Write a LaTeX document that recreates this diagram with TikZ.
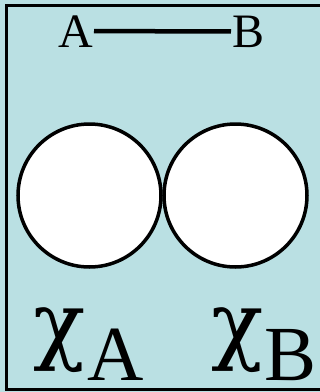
\documentclass[tikz,border=0pt]{standalone}
\usepackage{fontspec}
\setmainfont{Liberation Serif}
\newfontfamily\greekfont{DejaVu Serif}
\definecolor{bg}{HTML}{BAE0E3}
\tikzset{
  lbl/.style={inner sep=1pt, font=\fontsize{48}{48}\selectfont},
  disc/.style={circle, draw, fill=white, line width=3.5pt, minimum size=143pt, inner sep=0pt},
  chi/.style={inner sep=0pt, anchor=base west, font=\fontsize{86}{86}\selectfont\greekfont},
  sub/.style={inner sep=0pt, anchor=base west, text depth=0pt, font=\fontsize{78}{78}\selectfont}
}
\begin{document}
\begin{tikzpicture}[x=1pt,y=-1pt]
\useasboundingbox (0,0) rectangle (320,392);
\fill[bg] (0,0) rectangle (320,392);
\draw[line width=2.5pt] (320,5.5) -- (6.5,5.5) -- (6.5,389.5) -- (320,389.5);
\node[lbl, anchor=base east] (A) at (94,47) {A};
\node[lbl, anchor=base west] (B) at (231,47) {B};
\draw[line width=4.5pt] (A.east) -- (B.west);
\node[disc] (ca) at (89.5,195.5) {};
\node[disc] (cb) at (235.5,195.5) {};
\node[chi] (xa) at (33,353) {χ};
\node[sub] (sa) at (87,380) {A};
\node[chi] (xb) at (211,353) {χ};
\node[sub] (sb) at (264,380) {B};
\end{tikzpicture}
\end{document}
